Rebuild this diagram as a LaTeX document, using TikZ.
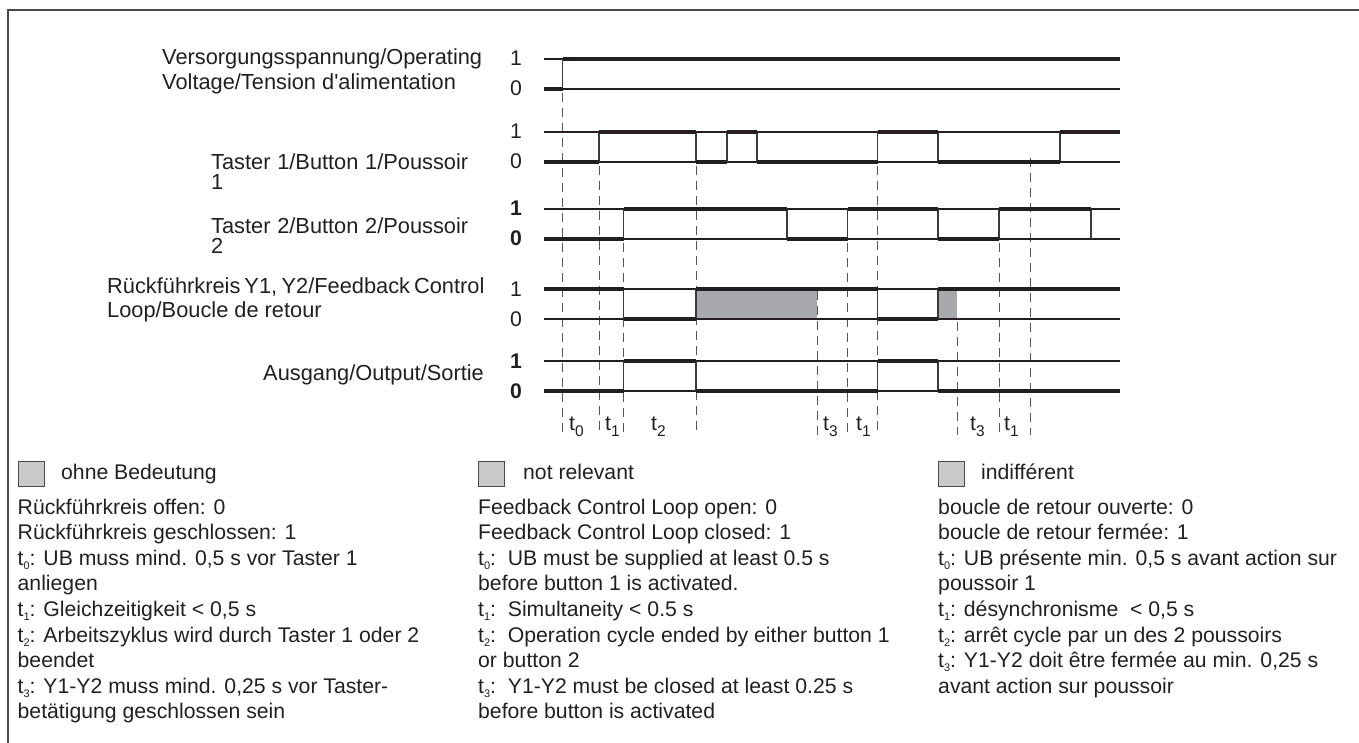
\documentclass[tikz,border=0pt]{standalone}
\usepackage{fontspec}
\setmainfont{Liberation Sans}
\newcommand\diafont{\fontsize{21.2}{25.6}\selectfont}
\newcommand\topfont{\fontsize{21.8}{25.6}\selectfont}
\newcommand\tsub[1]{t\raisebox{-4pt}{\fontsize{11}{11}\selectfont #1}}
\newcommand\plt[1]{t\raisebox{-6pt}{\fontsize{15.5}{15.5}\selectfont #1}}
\definecolor{lc}{HTML}{231F20}
\definecolor{ec}{HTML}{3A3A3A}
\definecolor{dc}{HTML}{555555}
\definecolor{gfill}{HTML}{A7A9AC}
\definecolor{lfill}{HTML}{C9C9C9}
\definecolor{fc}{HTML}{4A4A4A}
\begin{document}
\begin{tikzpicture}[x=1pt,y=-1pt,
  ref/.style={line width=1.1pt, draw=lc},
  sig/.style={line width=3.8pt, draw=lc, line cap=butt},
  edge/.style={line width=1.1pt, draw=ec},
  guide/.style={line width=0.9pt, draw=dc, dash pattern=on 9pt off 6pt},
  lbl/.style={anchor=base west, inner sep=0pt, font=\diafont, text=lc},
  toplbl/.style={anchor=base west, inner sep=0pt, font=\topfont, text=lc},
  lvl/.style={anchor=base, inner sep=0pt, font=\diafont, text=lc},
  legbox/.style={draw=fc, fill=lfill, line width=1.2pt, minimum width=26pt, minimum height=25pt, inner sep=0pt, anchor=north west}]
\useasboundingbox (0,0) rectangle (1359,743);
% frame
\draw[line width=2pt, draw=fc] (8,743) -- (8,10) -- (1359,10);

% ---------- left labels ----------
\node[toplbl, name=supA] at (162,65) {Versorgungsspannung/Operating};
\node[toplbl, name=supB] at (162,90) {Voltage/Tension d\textquotesingle alimentation};
\node[toplbl, name=tA] at (211,170) {\makebox[257pt][s]{Taster 1/Button 1/Poussoir}};
\node[toplbl, name=tAb] at (211,190) {1};
\node[toplbl, name=tB] at (211,234) {\makebox[257pt][s]{Taster 2/Button 2/Poussoir}};
\node[toplbl, name=tBb] at (211,254) {2};
\node[toplbl, name=fbA] at (107,294) {\makebox[377pt][s]{Rückführkreis Y1, Y2/Feedback Control}};
\node[toplbl, name=fbB] at (107,317) {Loop/Boucle de retour};
\node[toplbl, anchor=base east, name=outA] at (484,380) {Ausgang/Output/Sortie};

% level labels
\node[lvl, name=l1] at (516,66) {1};
\node[lvl, name=l2] at (516,96) {0};
\node[lvl, name=l3] at (516,139) {1};
\node[lvl, name=l4] at (516,169) {0};
\node[lvl, name=l5] at (516,216) {\bfseries 1};
\node[lvl, name=l6] at (516,246) {\bfseries 0};
\node[lvl, name=l7] at (516,296) {1};
\node[lvl, name=l8] at (516,326) {0};
\node[lvl, name=l9] at (516,368) {\bfseries 1};
\node[lvl, name=l10] at (516,398) {\bfseries 0};

% ---------- grey "not relevant" areas ----------
\fill[gfill] (696,289) rectangle (817,319);
\fill[gfill] (938,289) rectangle (957,319);

% ---------- dashed guides ----------
\draw[guide] (562.5,93) -- (562.5,435);
\draw[guide] (599,166) -- (599,435);
\draw[guide] (623.5,243) -- (623.5,435);
\draw[guide] (696,166) -- (696,435);
\draw[guide] (817,291) -- (817,435);
\draw[guide] (847.5,243) -- (847.5,435);
\draw[guide] (877.5,166) -- (877.5,435);
\draw[guide] (957,322) -- (957,435);
\draw[guide] (999,243) -- (999,435);
\draw[guide] (1030,158) -- (1030,435);

% ---------- reference lines ----------
\foreach \y in {59,89,132,162,209,239,289,319,361,391}
  \draw[ref] (544,\y) -- (1120,\y);

% ---------- supply ----------
\draw[edge] (562.5,59) -- (562.5,89);
\draw[sig] (544,89) -- (562.5,89);
\draw[sig] (562.5,59) -- (1120,59);

% ---------- Taster 1 ----------
\foreach \x in {599,696,727,757,877.5,938,1060}
  \draw[edge] (\x,132) -- (\x,162);
\draw[sig] (544,162) -- (599,162);
\draw[sig] (599,132) -- (696,132);
\draw[sig] (696,162) -- (727,162);
\draw[sig] (727,132) -- (757,132);
\draw[sig] (757,162) -- (877.5,162);
\draw[sig] (877.5,132) -- (938,132);
\draw[sig] (938,162) -- (1060,162);
\draw[sig] (1060,132) -- (1120,132);

% ---------- Taster 2 ----------
\foreach \x in {623.5,787,847.5,938,999,1091}
  \draw[edge] (\x,209) -- (\x,239);
\draw[sig] (544,239) -- (623.5,239);
\draw[sig] (623.5,209) -- (787,209);
\draw[sig] (787,239) -- (847.5,239);
\draw[sig] (847.5,209) -- (938,209);
\draw[sig] (938,239) -- (999,239);
\draw[sig] (999,209) -- (1091,209);

% ---------- Feedback loop ----------
\foreach \x in {623.5,696,877.5,938}
  \draw[edge] (\x,289) -- (\x,319);
\draw[sig] (544,289) -- (623.5,289);
\draw[sig] (623.5,319) -- (696,319);
\draw[sig] (696,289) -- (877.5,289);
\draw[sig] (877.5,319) -- (938,319);
\draw[sig] (938,289) -- (1120,289);

% ---------- Output ----------
\foreach \x in {623.5,696,877.5,938}
  \draw[edge] (\x,361) -- (\x,391);
\draw[sig] (544,391) -- (623.5,391);
\draw[sig] (623.5,361) -- (696,361);
\draw[sig] (696,391) -- (877.5,391);
\draw[sig] (877.5,361) -- (938,361);
\draw[sig] (938,391) -- (1120,391);

% ---------- time labels ----------
\node[lbl, name=ta] at (569,430) {\plt{0}};
\node[lbl, name=tb] at (605,430) {\plt{1}};
\node[lbl, name=tc] at (651,430) {\plt{2}};
\node[lbl, name=td] at (823,430) {\plt{3}};
\node[lbl, name=te] at (856,430) {\plt{1}};
\node[lbl, name=tf] at (970,430) {\plt{3}};
\node[lbl, name=tg] at (1004,430) {\plt{1}};

% ---------- legend ----------
\node[legbox, name=g1] at (18,461) {};
\node[lbl, name=g1t] at (61,479) {ohne Bedeutung};
\node[legbox, name=g2] at (478,461) {};
\node[lbl, name=g2t] at (523,479) {not relevant};
\node[legbox, name=g3] at (938,461) {};
\node[lbl, name=g3t] at (981,479) {indifférent};

\foreach \t [count=\i from 0] in {
  {Rückführkreis offen: 0},
  {Rückführkreis geschlossen: 1},
  {\tsub{0}: UB muss mind. 0,5 s vor Taster 1},
  {anliegen},
  {\tsub{1}: Gleichzeitigkeit < 0,5 s},
  {\tsub{2}: Arbeitszyklus wird durch Taster 1 oder 2},
  {beendet},
  {\tsub{3}: Y1-Y2 muss mind. 0,25 s vor Taster-},
  {betätigung geschlossen sein}}
  \node[lbl, name=ca\i] at (17.5,514+25.6*\i) {\t};

\foreach \t [count=\i from 0] in {
  {Feedback Control Loop open: 0},
  {Feedback Control Loop closed: 1},
  {\tsub{0}:\ \ UB must be supplied at least 0.5 s},
  {before button 1 is activated.},
  {\tsub{1}:\ \ Simultaneity < 0.5 s},
  {\tsub{2}:\ \ Operation cycle ended by either button 1},
  {or button 2},
  {\tsub{3}:\ \ Y1-Y2 must be closed at least 0.25 s},
  {before button is activated}}
  \node[lbl, name=cb\i] at (478,514+25.6*\i) {\t};

\foreach \t [count=\i from 0] in {
  {boucle de retour ouverte: 0},
  {boucle de retour fermée: 1},
  {\tsub{0}: UB présente min. 0,5 s avant action sur},
  {poussoir 1},
  {\tsub{1}: désynchronisme\ \ < 0,5 s},
  {\tsub{2}: arrêt cycle par un des 2 poussoirs},
  {\tsub{3}: Y1-Y2 doit être fermée au min. 0,25 s},
  {avant action sur poussoir}}
  \node[lbl, name=cc\i] at (938,514+25.6*\i) {\t};
\end{tikzpicture}
\end{document}
